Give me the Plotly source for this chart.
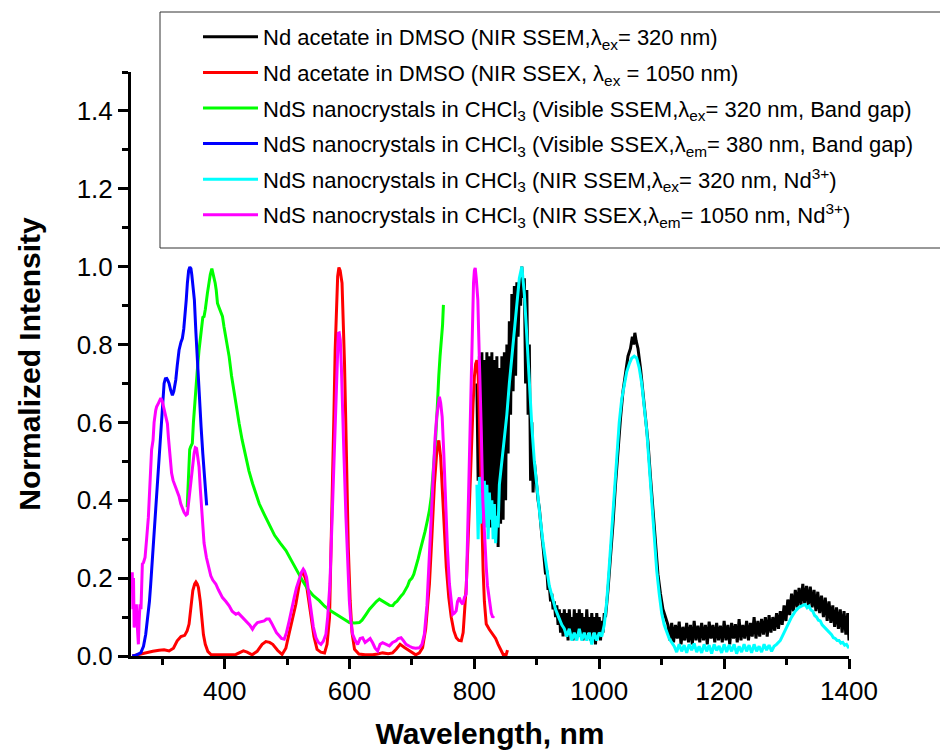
import plotly.graph_objects as go

# ---- spectra: (wavelength nm, normalized intensity) ----
nd_acetate_ssem = [
    (804, 0.70), (806, 0.45), (808, 0.77), (810, 0.42), (812, 0.78), (814, 0.40), (816, 0.76), (818, 0.36),
    (820, 0.78), (822, 0.38), (824, 0.77), (826, 0.33), (828, 0.78), (830, 0.35), (832, 0.76), (834, 0.30),
    (836, 0.77), (838, 0.28), (840, 0.74), (842, 0.34), (844, 0.77), (846, 0.35), (848, 0.78), (850, 0.40),
    (852, 0.80), (854, 0.52), (856, 0.86), (858, 0.62), (860, 0.93), (862, 0.68), (864, 0.95), (866, 0.72),
    (868, 0.96), (870, 0.82), (872, 0.95), (874, 0.90), (876, 1.00), (878, 0.92), (880, 0.97), (882, 0.70),
    (884, 0.94), (886, 0.62), (888, 0.80), (890, 0.45), (892, 0.60), (894, 0.42), (896, 0.50), (898, 0.46),
    (900, 0.44), (902, 0.40), (904, 0.38), (906, 0.33), (908, 0.31), (910, 0.28), (912, 0.25), (914, 0.21),
    (916, 0.22), (918, 0.17), (920, 0.18), (922, 0.14), (924, 0.16), (926, 0.12), (928, 0.14), (930, 0.10),
    (932, 0.13), (934, 0.08), (936, 0.12), (938, 0.06), (940, 0.11), (942, 0.05), (944, 0.12), (946, 0.06),
    (948, 0.11), (950, 0.04), (952, 0.12), (954, 0.06), (956, 0.10), (958, 0.04), (960, 0.12), (962, 0.05),
    (964, 0.11), (966, 0.06), (968, 0.12), (970, 0.05), (972, 0.11), (974, 0.04), (976, 0.10), (978, 0.05),
    (980, 0.12), (982, 0.06), (984, 0.10), (986, 0.04), (988, 0.11), (990, 0.06), (992, 0.10), (994, 0.03),
    (996, 0.11), (998, 0.05), (1000, 0.10), (1002, 0.04), (1004, 0.09), (1006, 0.06), (1008, 0.11), (1010, 0.10),
    (1014, 0.17), (1018, 0.25), (1022, 0.34), (1026, 0.44), (1030, 0.53), (1034, 0.61), (1038, 0.68), (1042, 0.72),
    (1046, 0.77), (1050, 0.79), (1053, 0.82), (1055, 0.80), (1057, 0.83), (1059, 0.81), (1062, 0.79), (1066, 0.74),
    (1070, 0.68), (1074, 0.62), (1078, 0.55), (1082, 0.46), (1086, 0.37), (1090, 0.28), (1094, 0.21), (1098, 0.16),
    (1102, 0.12), (1106, 0.10), (1110, 0.08), (1113, 0.04), (1116, 0.085), (1119, 0.035), (1122, 0.08), (1125, 0.045),
    (1128, 0.088), (1131, 0.03), (1134, 0.075), (1137, 0.04), (1140, 0.085), (1143, 0.035), (1146, 0.08), (1149, 0.03),
    (1152, 0.09), (1155, 0.04), (1158, 0.078), (1161, 0.035), (1164, 0.085), (1167, 0.04), (1170, 0.08), (1173, 0.03),
    (1176, 0.088), (1179, 0.045), (1182, 0.08), (1185, 0.035), (1188, 0.085), (1191, 0.04), (1194, 0.078), (1197, 0.035),
    (1200, 0.09), (1203, 0.04), (1206, 0.08), (1209, 0.03), (1212, 0.085), (1215, 0.045), (1218, 0.082), (1221, 0.035),
    (1224, 0.095), (1227, 0.04), (1230, 0.08), (1233, 0.045), (1236, 0.09), (1239, 0.04), (1242, 0.085), (1245, 0.05),
    (1248, 0.10), (1251, 0.045), (1254, 0.09), (1257, 0.05), (1260, 0.095), (1263, 0.055), (1266, 0.10), (1269, 0.05),
    (1272, 0.105), (1275, 0.06), (1278, 0.10), (1281, 0.065), (1284, 0.11), (1287, 0.07), (1290, 0.115), (1293, 0.08),
    (1296, 0.13), (1299, 0.09), (1302, 0.145), (1305, 0.105), (1308, 0.16), (1311, 0.115), (1314, 0.17), (1317, 0.125),
    (1320, 0.175), (1323, 0.13), (1326, 0.185), (1329, 0.135), (1332, 0.18), (1335, 0.13), (1338, 0.178), (1341, 0.125),
    (1344, 0.17), (1347, 0.115), (1350, 0.165), (1353, 0.11), (1356, 0.155), (1359, 0.10), (1362, 0.15), (1365, 0.09),
    (1368, 0.14), (1371, 0.085), (1374, 0.13), (1377, 0.075), (1380, 0.125), (1383, 0.07), (1386, 0.12), (1389, 0.06),
    (1392, 0.115), (1395, 0.055), (1398, 0.11), (1400, 0.04),
]

nd_acetate_ssex = [
    (252, 0.0), (262, 0.004), (274, 0.008), (285, 0.012), (295, 0.015), (303, 0.016), (311, 0.013), (318, 0.02),
    (324, 0.039), (330, 0.05), (336, 0.053), (340, 0.065), (343, 0.082), (346, 0.13), (349, 0.168), (352, 0.185),
    (354, 0.19), (356, 0.185), (358, 0.176), (361, 0.14), (363, 0.099), (366, 0.055), (369, 0.03), (373, 0.012),
    (378, 0.004), (390, 0.003), (405, 0.003), (418, 0.004), (424, 0.008), (430, 0.013), (436, 0.01), (444, 0.003),
    (452, 0.012), (460, 0.03), (466, 0.037), (472, 0.035), (477, 0.03), (485, 0.014), (492, 0.004), (498, 0.02),
    (503, 0.056), (509, 0.10), (514, 0.133), (519, 0.18), (523, 0.213), (526, 0.215), (530, 0.195), (534, 0.15),
    (538, 0.099), (543, 0.05), (548, 0.017), (554, 0.01), (560, 0.008), (564, 0.03), (568, 0.099), (571, 0.30),
    (573, 0.443), (575, 0.62), (577, 0.786), (579, 0.90), (581, 0.975), (583, 0.998), (585, 0.99), (588, 0.958),
    (590, 0.87), (592, 0.75), (594, 0.60), (596, 0.443), (598, 0.28), (601, 0.142), (604, 0.06), (608, 0.017),
    (615, 0.005), (625, 0.003), (637, 0.003), (645, 0.005), (653, 0.008), (662, 0.006), (669, 0.008), (675, 0.018),
    (681, 0.03), (688, 0.022), (696, 0.013), (706, 0.003), (712, 0.008), (717, 0.021), (722, 0.07), (728, 0.185),
    (732, 0.31), (736, 0.443), (740, 0.53), (743, 0.554), (746, 0.51), (748, 0.443), (751, 0.33), (755, 0.228),
    (759, 0.15), (763, 0.099), (767, 0.065), (771, 0.047), (775, 0.04), (779, 0.039), (782, 0.06), (784, 0.099),
    (787, 0.18), (790, 0.30), (793, 0.45), (795, 0.53), (798, 0.65), (800, 0.717), (802, 0.75), (804, 0.76),
    (806, 0.72), (808, 0.614), (810, 0.46), (812, 0.33), (814, 0.22), (816, 0.14), (819, 0.082), (824, 0.068),
    (830, 0.056), (834, 0.045), (838, 0.03), (842, 0.015), (846, 0.004), (851, 0.004), (853, 0.015),
]

nds_vis_ssem = [
    (340, 0.382), (342, 0.45), (344, 0.53), (345.5, 0.537), (348.2, 0.546), (350, 0.60), (352, 0.65), (353.8, 0.683),
    (356, 0.73), (359, 0.786), (361, 0.82), (363.4, 0.863), (365, 0.87), (367, 0.872), (369, 0.89), (372.4, 0.932),
    (375, 0.96), (377, 0.98), (379.5, 0.995), (381, 0.985), (383, 0.965), (384.8, 0.958), (386.5, 0.94), (388.5, 0.906),
    (391, 0.895), (393.5, 0.885), (396.5, 0.872), (399, 0.845), (401.9, 0.82), (404.5, 0.79), (407.2, 0.769), (411, 0.72),
    (415.2, 0.674), (419, 0.635), (423.2, 0.597), (428, 0.555), (434, 0.511), (439, 0.475), (444.7, 0.443), (450, 0.415),
    (455.4, 0.391), (463, 0.365), (471.4, 0.339), (480, 0.31), (489, 0.29), (498.2, 0.271), (507, 0.245), (516, 0.218),
    (524.9, 0.193), (533, 0.172), (542, 0.155), (551.6, 0.142), (560, 0.128), (569, 0.117), (578.4, 0.107), (588, 0.097),
    (594, 0.092), (599.7, 0.086), (608, 0.085), (615.7, 0.086), (620, 0.092), (623, 0.10), (626.5, 0.107), (632, 0.12),
    (638, 0.132), (643, 0.14), (647.8, 0.146), (652, 0.142), (658.5, 0.137), (664, 0.13), (669.2, 0.129), (673, 0.137),
    (676, 0.14), (679.9, 0.15), (683, 0.155), (686, 0.16), (690, 0.17), (693, 0.18), (696, 0.193), (700, 0.20),
    (703, 0.21), (706.6, 0.228), (710, 0.25), (713, 0.27), (717.3, 0.296), (721, 0.32), (725, 0.35), (728, 0.374),
    (731, 0.41), (734, 0.47), (736, 0.511), (738, 0.56), (740, 0.62), (741.4, 0.683), (743, 0.72), (745, 0.77),
    (746.8, 0.803), (749, 0.85), (750.4, 0.902),
]

nds_vis_ssex = [
    (252, 0.0), (258, 0.002), (265.6, 0.008), (270, 0.025), (273.6, 0.056), (277, 0.10), (279.5, 0.14), (281.6, 0.185),
    (284, 0.245), (287, 0.314), (290, 0.39), (292.3, 0.46), (295, 0.53), (297.7, 0.597), (300, 0.65), (303, 0.70),
    (305, 0.712), (307.3, 0.713), (309, 0.708), (311, 0.70), (313.5, 0.683), (316.3, 0.67), (318.5, 0.68), (321.7, 0.709),
    (324, 0.745), (327, 0.786), (330, 0.806), (332.3, 0.816), (334.5, 0.84), (336.6, 0.872), (338.5, 0.915), (340.3, 0.958),
    (342.3, 0.99), (344.2, 0.999), (346, 0.995), (347.4, 0.979), (349.5, 0.95), (351.5, 0.915), (354, 0.83), (356.7, 0.743),
    (359.5, 0.665), (362.3, 0.588), (365, 0.52), (367.5, 0.46), (369.5, 0.42), (371.2, 0.387),
]

nds_nir_ssem = [
    (804, 0.44), (806, 0.30), (808, 0.46), (810, 0.34), (812, 0.42), (814, 0.38), (816, 0.45), (818, 0.33),
    (820, 0.44), (822, 0.30), (824, 0.42), (826, 0.35), (828, 0.40), (830, 0.30), (832, 0.39), (834, 0.29),
    (836, 0.36), (838, 0.33), (840, 0.44), (844, 0.50), (848, 0.56), (852, 0.62), (856, 0.70), (860, 0.77),
    (864, 0.84), (868, 0.92), (872, 0.97), (876, 1.00), (878, 0.97), (880, 0.93), (884, 0.82), (888, 0.70),
    (892, 0.59), (896, 0.50), (900, 0.43), (905, 0.36), (910, 0.29), (915, 0.23), (920, 0.18), (925, 0.15),
    (930, 0.12), (935, 0.10), (940, 0.08), (944, 0.07), (948, 0.05), (952, 0.07), (956, 0.04), (960, 0.06),
    (964, 0.04), (968, 0.07), (972, 0.04), (976, 0.06), (980, 0.04), (984, 0.06), (988, 0.03), (992, 0.06),
    (996, 0.04), (1000, 0.06), (1004, 0.05), (1008, 0.08), (1012, 0.14), (1016, 0.23), (1020, 0.33), (1024, 0.43),
    (1028, 0.52), (1032, 0.60), (1036, 0.66), (1040, 0.70), (1044, 0.73), (1048, 0.75), (1052, 0.765), (1056, 0.77),
    (1060, 0.765), (1064, 0.74), (1068, 0.70), (1072, 0.64), (1076, 0.58), (1080, 0.49), (1084, 0.39), (1088, 0.30),
    (1092, 0.22), (1096, 0.16), (1100, 0.11), (1104, 0.08), (1108, 0.06), (1112, 0.045), (1116, 0.035), (1120, 0.025),
    (1124, 0.01), (1128, 0.03), (1132, 0.012), (1136, 0.028), (1140, 0.008), (1144, 0.03), (1148, 0.015), (1152, 0.032),
    (1156, 0.01), (1160, 0.025), (1164, 0.008), (1168, 0.03), (1172, 0.012), (1176, 0.028), (1180, 0.006), (1184, 0.03),
    (1188, 0.014), (1192, 0.026), (1196, 0.008), (1200, 0.03), (1204, 0.01), (1208, 0.028), (1212, 0.012), (1216, 0.03),
    (1220, 0.006), (1224, 0.025), (1228, 0.01), (1232, 0.03), (1236, 0.012), (1240, 0.028), (1244, 0.008), (1248, 0.03),
    (1252, 0.012), (1256, 0.025), (1260, 0.01), (1264, 0.03), (1268, 0.015), (1272, 0.028), (1276, 0.012), (1280, 0.025),
    (1284, 0.03), (1290, 0.04), (1296, 0.06), (1302, 0.08), (1308, 0.10), (1314, 0.115), (1320, 0.125), (1326, 0.13),
    (1330, 0.132), (1333, 0.124), (1336, 0.128), (1339, 0.118), (1342, 0.115), (1345, 0.104), (1348, 0.10), (1351, 0.092),
    (1354, 0.09), (1357, 0.08), (1360, 0.075), (1363, 0.07), (1366, 0.065), (1369, 0.058), (1372, 0.055), (1375, 0.047),
    (1378, 0.045), (1381, 0.04), (1384, 0.04), (1387, 0.033), (1390, 0.035), (1393, 0.028), (1396, 0.03), (1400, 0.02),
]

nds_nir_ssex = [
    (252, 0.215), (253, 0.12), (254, 0.20), (255, 0.073), (257, 0.11), (258.6, 0.133), (260, 0.08), (261.8, 0.03),
    (263, 0.09), (264.5, 0.133), (266, 0.12), (268.2, 0.236), (270, 0.24), (272.5, 0.253), (275, 0.30), (277.8, 0.356),
    (280, 0.43), (281.6, 0.485), (283, 0.53), (285.3, 0.554), (287, 0.60), (289.6, 0.631), (291, 0.64), (293.8, 0.649),
    (296, 0.655), (297.7, 0.662), (300, 0.655), (301.9, 0.64), (305, 0.615), (308.3, 0.597), (310, 0.56), (312, 0.52),
    (313.7, 0.503), (315, 0.47), (317.4, 0.451), (320, 0.44), (324.3, 0.425), (327, 0.41), (329.7, 0.391), (332, 0.38),
    (335, 0.369), (338, 0.362), (340.3, 0.365), (342, 0.39), (345.7, 0.443), (348, 0.49), (351, 0.52), (353, 0.535),
    (355, 0.533), (357, 0.51), (359, 0.485), (361, 0.43), (364.3, 0.339), (367, 0.29), (370.8, 0.253), (374, 0.23),
    (377.8, 0.206), (381, 0.195), (385.8, 0.185), (390, 0.17), (396.5, 0.15), (402, 0.14), (407.2, 0.129), (412, 0.115),
    (417.9, 0.107), (422, 0.11), (428.6, 0.099), (432, 0.095), (436.6, 0.086), (440, 0.08), (444.6, 0.069), (448, 0.078),
    (452.6, 0.086), (457, 0.088), (463.4, 0.09), (467, 0.095), (471.4, 0.095), (475, 0.085), (479.4, 0.073), (483, 0.06),
    (487.4, 0.052), (491, 0.045), (495.4, 0.043), (499, 0.06), (503.4, 0.09), (507, 0.12), (511.4, 0.15), (515, 0.175),
    (519.5, 0.198), (523, 0.215), (525.9, 0.223), (528, 0.218), (531.2, 0.202), (535, 0.16), (538.2, 0.116), (542, 0.075),
    (546.2, 0.047), (550, 0.035), (554.2, 0.03), (558, 0.038), (562.2, 0.056), (565, 0.10), (568.6, 0.185), (571, 0.30),
    (574, 0.443), (576, 0.58), (578.3, 0.70), (580, 0.78), (582, 0.829), (583.5, 0.83), (585.2, 0.812), (587, 0.74),
    (588.9, 0.657), (591, 0.52), (594.3, 0.356), (597, 0.23), (599.7, 0.142), (602, 0.09), (605, 0.056), (609, 0.04),
    (613, 0.03), (617, 0.045), (621, 0.047), (625, 0.035), (629.1, 0.039), (633, 0.045), (637, 0.034), (641, 0.02),
    (645.1, 0.013), (649, 0.03), (653, 0.034), (658, 0.03), (663.8, 0.026), (669, 0.035), (674.5, 0.039), (678, 0.045),
    (682.5, 0.047), (686, 0.04), (690.5, 0.03), (696, 0.025), (701.2, 0.021), (706, 0.02), (711.9, 0.021), (716, 0.03),
    (719.9, 0.056), (724, 0.13), (728, 0.271), (731, 0.38), (734.4, 0.485), (737, 0.56), (739.6, 0.614), (742, 0.65),
    (744, 0.666), (746, 0.65), (748.4, 0.614), (751, 0.52), (753.5, 0.40), (757, 0.27), (760, 0.185), (763, 0.13),
    (765.3, 0.107), (768, 0.11), (770.8, 0.116), (773, 0.14), (776, 0.15), (778, 0.14), (781.4, 0.133), (784, 0.15),
    (786.8, 0.159), (789, 0.30), (791, 0.443), (793, 0.60), (794.9, 0.743), (796.7, 0.86), (798.6, 0.958), (800, 0.99),
    (801.3, 0.997), (803, 0.97), (805.5, 0.915), (807, 0.82), (809.4, 0.70), (811, 0.58), (813.5, 0.40), (816, 0.30),
    (819, 0.228), (821, 0.18), (824.3, 0.133), (827, 0.11), (829.5, 0.099), (831, 0.103),
]

series_names = [
    "Nd acetate in DMSO (NIR SSEM,λ<sub>ex</sub>= 320 nm)",
    "Nd acetate in DMSO (NIR SSEX, λ<sub>ex</sub> = 1050 nm)",
    "NdS nanocrystals in CHCl<sub>3</sub> (Visible SSEM,λ<sub>ex</sub>= 320 nm, Band gap)",
    "NdS nanocrystals in CHCl<sub>3</sub> (Visible SSEX,λ<sub>em</sub>= 380 nm, Band gap)",
    "NdS nanocrystals in CHCl<sub>3</sub> (NIR SSEM,λ<sub>ex</sub>= 320 nm, Nd<sup>3+</sup>)",
    "NdS nanocrystals in CHCl<sub>3</sub> (NIR SSEX,λ<sub>em</sub>= 1050 nm, Nd<sup>3+</sup>)",
]
series_data = [nd_acetate_ssem, nd_acetate_ssex, nds_vis_ssem, nds_vis_ssex, nds_nir_ssem, nds_nir_ssex]
series_colors = ["#000000", "#ff0000", "#00ff00", "#0000ff", "#00ffff", "#ff00ff"]

x_ticks = [400, 600, 800, 1000, 1200, 1400]
y_ticks = [0.0, 0.2, 0.4, 0.6, 0.8, 1.0, 1.2, 1.4]

FONT = "Arial, Liberation Sans, sans-serif"
LEGEND_FONT = "Liberation Sans Narrow, Arial Narrow, Arial, Liberation Sans, sans-serif"

fig = go.Figure()
for i, (name, data, color) in enumerate(zip(series_names, series_data, series_colors)):
    wl, inten = zip(*data)
    fig.add_trace(go.Scatter(
        x=list(wl), y=list(inten), mode="lines", name=name,
        line=dict(color=color, width=3), legendgroup=f"g{i}",
    ))

axis_common = dict(
    showline=True, linecolor="black", linewidth=3, mirror=False,
    showgrid=False, zeroline=False, automargin=False,
    ticks="outside", ticklen=10, tickwidth=3, tickcolor="black",
    tickfont=dict(family=FONT, size=26, color="black"),
)

fig.update_xaxes(
    range=[250, 1400], tickvals=x_ticks, ticktext=[str(v) for v in x_ticks],
    minor=dict(ticks="outside", ticklen=6, tickwidth=3, tickcolor="black", dtick=100, tick0=0),
    title=dict(text="<b>Wavelength, nm</b>", font=dict(family=FONT, size=30, color="black"), standoff=22),
    **axis_common,
)
fig.update_yaxes(
    range=[0, 1.5], tickvals=y_ticks, ticktext=[f"{v:.1f}" for v in y_ticks],
    minor=dict(ticks="outside", ticklen=6, tickwidth=3, tickcolor="black", dtick=0.1, tick0=0),
    title=dict(text="<b>Normalized Intensity</b>", font=dict(family=FONT, size=30, color="black"), standoff=28),
    **axis_common,
)

# legend frame (runs off the right edge of the figure)
fig.add_shape(type="rect", xref="paper", yref="paper",
              x0=(160 - 131) / 718, x1=1.3, y0=(656 - 248) / 584, y1=(656 - 12) / 584,
              line=dict(color="#333333", width=1), fillcolor="rgba(0,0,0,0)", layer="above")

fig.update_layout(
    width=940, height=750,
    margin=dict(l=131, r=91, t=72, b=94),
    paper_bgcolor="white", plot_bgcolor="white",
    font=dict(family=FONT, color="black"),
    legend=dict(
        x=(198 - 131) / 718, y=(656 - 16) / 584, xanchor="left", yanchor="top",
        bgcolor="rgba(0,0,0,0)", borderwidth=0,
        font=dict(family=LEGEND_FONT, size=22, color="black"),
        itemwidth=55, tracegroupgap=4, traceorder="grouped",
    ),
)

fig.write_html("out.html")
